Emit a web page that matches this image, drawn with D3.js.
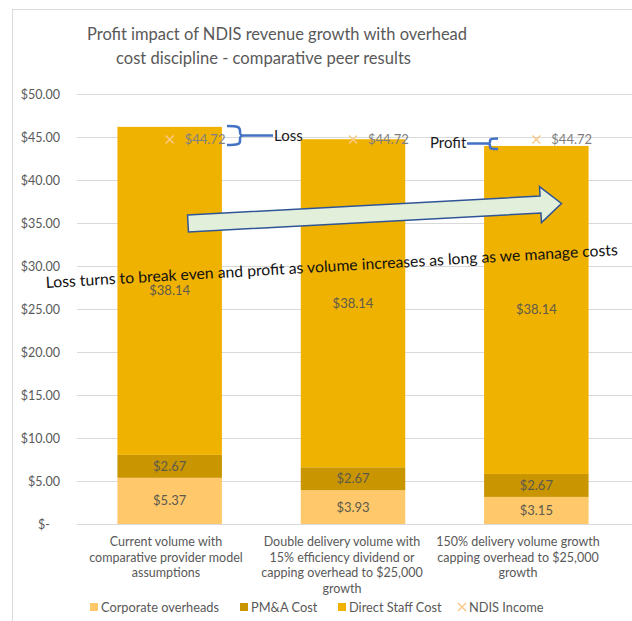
<!DOCTYPE html>
<html><head><meta charset="utf-8">
<script src="https://cdn.jsdelivr.net/npm/d3@7/dist/d3.min.js"></script>
<style>body{margin:0;background:#fff}svg{display:block;font-family:Lato,"Open Sans",sans-serif}</style>
</head><body>
<script>
// ---- data ----
const categories = [
  ["Current volume with","comparative provider model","assumptions"],
  ["Double delivery volume with","15% efficiency dividend or","capping overhead to $25,000","growth"],
  ["150% delivery volume growth","capping overhead to $25,000","growth"]
];
const catIds = ["c1","c2","c3"];
const corporateOverheads = [5.37, 3.93, 3.15];
const pmaCost = [2.67, 2.67, 2.67];
const directStaffCost = [38.14, 38.14, 38.14];
const ndisIncome = [44.72, 44.72, 44.72];
const seriesNames = ["Corporate overheads","PM&A Cost","Direct Staff Cost","NDIS Income"];
const yTicks = [0,5,10,15,20,25,30,35,40,45,50];
const titleLines = ["Profit impact of NDIS revenue growth with overhead","cost discipline - comparative peer results"];
const noteText = "Loss turns to break even and profit as volume increases as long as we manage costs";

const colors = {co:"#ffc96b", pm:"#c99500", ds:"#f0b200", ndis:"#fbc98a"};

const W = 632, H = 621;
const svg = d3.select("body").append("svg").attr("width",W).attr("height",H);

// chart border
svg.append("rect").attr("x",12.5).attr("y",9.5).attr("width",700).attr("height",700)
  .attr("fill","none").attr("stroke","#d9d9d9");

// title
const titleX = [87, 116], titleLen = [380, 295];
titleLines.forEach((t,i)=>{
  svg.append("text").attr("x",titleX[i]).attr("y",40+i*23.5)
    .attr("font-size",18).attr("fill","#595959")
    .attr("textLength",titleLen[i]).attr("lengthAdjust","spacingAndGlyphs").text(t);
});

const y = d3.scaleLinear().domain([0,50]).range([524,94]);
const x = d3.scaleBand().domain(catIds).range([78,628]).paddingInner(0.43).paddingOuter(0.215);
const xl = d3.scaleBand().domain(catIds).range([78,606]).paddingInner(0.43).paddingOuter(0.215);

// gridlines + y axis
const yAxis = d3.axisLeft(y).tickValues(yTicks)
  .tickFormat(d => d===0 ? "$-" : "$" + d.toFixed(2))
  .tickSize(-(W-77)).tickPadding(17);
const ga = svg.append("g").attr("transform","translate(77,0)").call(yAxis);
ga.select(".domain").remove();
ga.selectAll(".tick line").attr("stroke","#d9d9d9");
ga.selectAll(".tick text").attr("fill","#595959").attr("font-size",12.5).attr("font-family","Lato,sans-serif")
  .attr("dx", d => d===0 ? -10 : 0);

// stacked bars
const rows = catIds.map((c,i)=>({id:c, co:corporateOverheads[i], pm:pmaCost[i], ds:directStaffCost[i]}));
const keys = ["co","pm","ds"];
const stack = d3.stack().keys(keys)(rows);
stack.forEach(layer=>{
  const k = layer.key;
  const g = svg.append("g");
  g.selectAll("rect").data(layer).enter().append("rect")
    .attr("x", d=>x(d.data.id)).attr("width", x.bandwidth())
    .attr("y", d=>y(d[1])).attr("height", d=>y(d[0])-y(d[1]))
    .attr("fill", colors[k]);
  g.selectAll("text").data(layer).enter().append("text")
    .attr("x", d=>x(d.data.id)+x.bandwidth()/2).attr("y", d=>y((d[0]+d[1])/2)+4.5)
    .attr("text-anchor","middle").attr("font-size",13).attr("fill","#5e5a4c")
    .text(d=>"$"+d.data[k].toFixed(2));
});

// NDIS income markers
const mk = svg.append("g");
catIds.forEach((c,i)=>{
  const cx = x(c)+x.bandwidth()/2, cy = y(ndisIncome[i]);
  mk.append("path").attr("d",`M${cx-4},${cy-4}L${cx+4},${cy+4}M${cx-4},${cy+4}L${cx+4},${cy-4}`)
    .attr("stroke",colors.ndis).attr("stroke-width",1.5);
  mk.append("text").attr("x",cx+15).attr("y",cy+4.5).attr("font-size",13).attr("fill","#7f7f7f")
    .text("$"+ndisIncome[i].toFixed(2));
});

// x category labels
categories.forEach((lines,i)=>{
  const cx = xl(catIds[i])+xl.bandwidth()/2;
  lines.forEach((t,j)=>{
    svg.append("text").attr("x",cx).attr("y",546+j*15.7).attr("text-anchor","middle")
      .attr("font-size",12.5).attr("fill","#595959").text(t);
  });
});

// legend
const legend = [
  {name:seriesNames[0], c:colors.co, x:90, type:"sq"},
  {name:seriesNames[1], c:colors.pm, x:240, type:"sq"},
  {name:seriesNames[2], c:colors.ds, x:338, type:"sq"},
  {name:seriesNames[3], c:colors.ndis, x:458, type:"x"}
];
legend.forEach(l=>{
  if(l.type==="sq"){
    svg.append("rect").attr("x",l.x).attr("y",603).attr("width",8).attr("height",8).attr("fill",l.c);
  } else {
    svg.append("path").attr("d",`M${l.x},${603}L${l.x+8},${611}M${l.x},${611}L${l.x+8},${603}`)
      .attr("stroke",l.c).attr("stroke-width",1.5);
  }
  svg.append("text").attr("x",l.x+11).attr("y",612).attr("font-size",12.8).attr("fill","#595959").text(l.name);
});

// Loss bracket "}" and label
const blue = "#4472c4";
svg.append("path").attr("d","M227,126 C238,126 240,127 240,131 L240,132 C240,135 241,135.5 244,135.5 C241,135.5 240,136 240,139 L240,141 C240,144 238,145 227,145 M244,135.5 L273,135.5")
  .attr("fill","none").attr("stroke",blue).attr("stroke-width",2.5);
svg.append("text").attr("x",274).attr("y",141).attr("font-size",15).attr("fill","#1a1a1a").text("Loss");

// Profit bracket "{" and label
svg.append("path").attr("d","M498,138.5 C491,138.5 490,139 490,141 L490,142 C490,143.5 489,143.5 487,143.5 C489,143.5 490,144 490,145.5 L490,146.5 C490,148.5 491,149 498,149 M487,143.5 L467,143.5")
  .attr("fill","none").attr("stroke",blue).attr("stroke-width",2.5);
svg.append("text").attr("x",430).attr("y",148).attr("font-size",15).attr("fill","#1a1a1a").text("Profit");

// block arrow
const ax0 = 188, ay0 = 223.5, len = 374, ang = -3.07;
const sh = 8.5, hh = 18, hl = 21;
svg.append("path")
  .attr("transform",`translate(${ax0},${ay0}) rotate(${ang})`)
  .attr("d",`M0,${-sh}L${len-hl},${-sh}L${len-hl},${-hh}L${len},0L${len-hl},${hh}L${len-hl},${sh}L0,${sh}Z`)
  .attr("fill","#e2efda").attr("stroke","#2f5597").attr("stroke-width",1.5).attr("stroke-linejoin","miter");

// rotated note
svg.append("text").attr("transform","translate(46,288) rotate(-3.3)")
  .attr("font-size",15.5).attr("fill","#111").attr("textLength",573).attr("lengthAdjust","spacingAndGlyphs")
  .text(noteText);
</script>
</body></html>
